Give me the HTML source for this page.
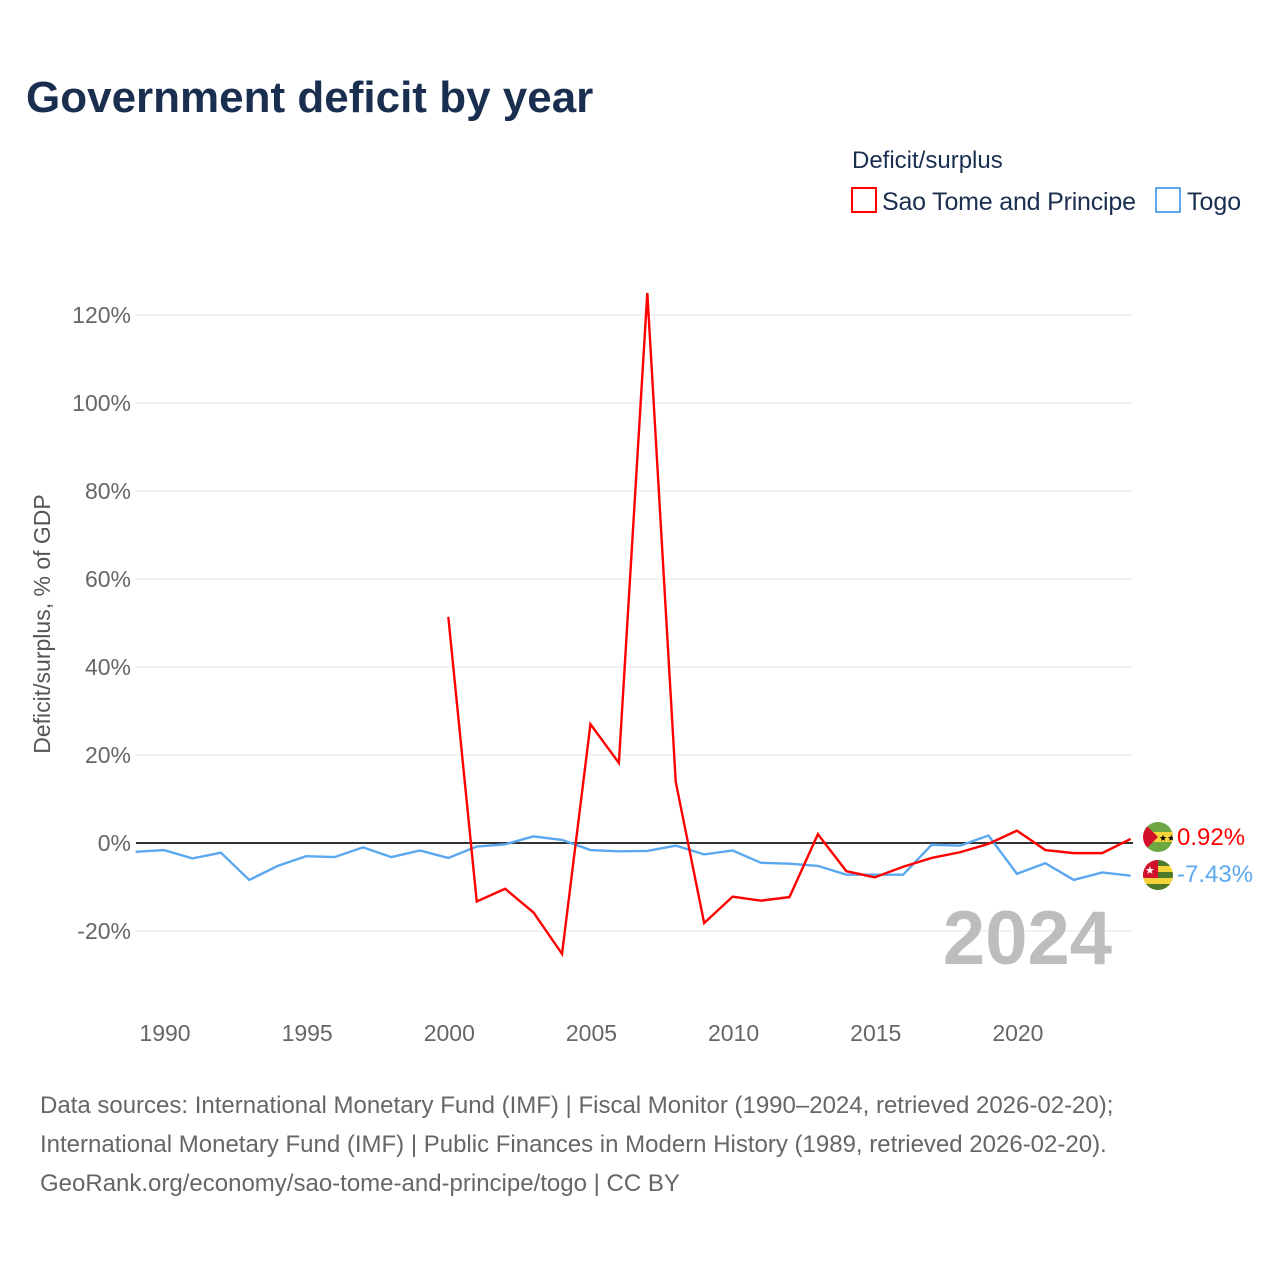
<!DOCTYPE html>
<html><head><meta charset="utf-8"><style>
body{margin:0;background:#fff;width:1280px;height:1280px;overflow:hidden;font-family:"Liberation Sans",sans-serif}
</style></head><body>
<svg id="chart" width="1280" height="1280" xmlns="http://www.w3.org/2000/svg">
<text x="26" y="112" font-size="44" font-weight="bold" fill="#1a2e4f">Government deficit by year</text>
<text x="852" y="168" font-size="24" fill="#1a2e4f">Deficit/surplus</text>
<g><rect x="852" y="188" width="24" height="24" fill="none" stroke="#ff0000" stroke-width="2"/><text x="882" y="210" font-size="25" fill="#1a2e4f" textLength="254">Sao Tome and Principe</text></g>
<g><rect x="1156" y="188" width="24" height="24" fill="none" stroke="#5ba8f0" stroke-width="2"/><text x="1187" y="210" font-size="25" fill="#1a2e4f">Togo</text></g>
<g id="grid"></g><g id="yticks"></g><g id="xticks"></g>
<text transform="translate(50,624) rotate(-90)" text-anchor="middle" font-size="23" fill="#555">Deficit/surplus, % of GDP</text>
<text x="1112" y="964" text-anchor="end" font-size="76" font-weight="bold" fill="#bdbdbd">2024</text>
<g id="series"></g>
<g><clipPath id="c1"><circle cx="1158" cy="837" r="15"/></clipPath><g clip-path="url(#c1)"><rect x="1143" y="822" width="30" height="30" fill="#6ea845"/><rect x="1143" y="832" width="30" height="10" fill="#f5d33a"/><polygon points="1143,822 1158,837 1143,852" fill="#d2102c"/><text x="1159" y="841" font-size="9">★★</text></g></g>
<g><clipPath id="c2"><circle cx="1158" cy="875" r="15"/></clipPath><g clip-path="url(#c2)"><rect x="1143" y="860" width="30" height="30" fill="#f5d33a"/><rect x="1143" y="860" width="30" height="6" fill="#4d7a2a"/><rect x="1143" y="872" width="30" height="6" fill="#4d7a2a"/><rect x="1143" y="884" width="30" height="6" fill="#4d7a2a"/><rect x="1143" y="860" width="15" height="18" fill="#d2102c"/><text x="1145" y="874" font-size="11" fill="#fff">★</text></g></g>
<text x="1177" y="845" font-size="24" fill="#ff0000">0.92%</text>
<text x="1177" y="882" font-size="24" fill="#5ba8f0">-7.43%</text>
<text font-size="24" fill="#666"><tspan x="40" y="1113">Data sources: International Monetary Fund (IMF) | Fiscal Monitor (1990–2024, retrieved 2026-02-20);</tspan><tspan x="40" y="1152">International Monetary Fund (IMF) | Public Finances in Modern History (1989, retrieved 2026-02-20).</tspan><tspan x="40" y="1191">GeoRank.org/economy/sao-tome-and-principe/togo | CC BY</tspan></text>
</svg>
<script>
const togoYears=[1989,1990,1991,1992,1993,1994,1995,1996,1997,1998,1999,2000,2001,2002,2003,2004,2005,2006,2007,2008,2009,2010,2011,2012,2013,2014,2015,2016,2017,2018,2019,2020,2021,2022,2023,2024];
const togoValues=[-2.0,-1.6,-3.5,-2.2,-8.4,-5.2,-3.0,-3.2,-1.0,-3.2,-1.7,-3.4,-0.8,-0.3,1.5,0.7,-1.6,-1.9,-1.8,-0.6,-2.6,-1.7,-4.5,-4.7,-5.2,-7.2,-7.2,-7.2,-0.4,-0.6,1.7,-7.0,-4.6,-8.4,-6.7,-7.43];
const stpYears=[2000,2001,2002,2003,2004,2005,2006,2007,2008,2009,2010,2011,2012,2013,2014,2015,2016,2017,2018,2019,2020,2021,2022,2023,2024];
const stpValues=[51.4,-13.3,-10.4,-15.8,-25.2,27.0,18.2,125,13.9,-18.2,-12.2,-13.1,-12.3,2.0,-6.4,-7.8,-5.4,-3.4,-2.1,-0.2,2.8,-1.6,-2.3,-2.3,0.92];
const yTicks=[-20,0,20,40,60,80,100,120];
const xTicks=[1990,1995,2000,2005,2010,2015,2020];
const NS="http://www.w3.org/2000/svg";
const xs=y=>164+(y-1990)*28.43;
const ys=v=>843-v*4.4;
function mk(tag,attrs,parent,text){const e=document.createElementNS(NS,tag);for(const k in attrs)e.setAttribute(k,attrs[k]);if(text!==undefined)e.textContent=text;document.getElementById(parent).appendChild(e);return e;}
yTicks.forEach(t=>{
 const l=mk('line',{x1:136,x2:1133,y1:ys(t),y2:ys(t),stroke:t===0?'#333':'#e6e6e6','stroke-width':t===0?2:1},'grid');
 
 
 const tx=mk('text',{x:131,y:ys(t)+8,'text-anchor':'end','font-size':23,fill:'#666'},'yticks',t+'%');
 
 
});
xTicks.forEach(t=>{
 const tx=mk('text',{x:xs(t)+1,y:1041,'text-anchor':'middle','font-size':23,fill:'#666'},'xticks',String(t));
 
 
});
function line(yrs,vals,color,name){
 const p=mk('polyline',{points:yrs.map((y,i)=>xs(y)+','+ys(vals[i])).join(' '),fill:'none',stroke:color,'stroke-width':2.4,'stroke-linejoin':'miter'},'series');
 
 
}
line(togoYears,togoValues,'#5ba8f0','line-togo');
line(stpYears,stpValues,'#ff0000','line-sao-tome');
</script>
</body></html>
